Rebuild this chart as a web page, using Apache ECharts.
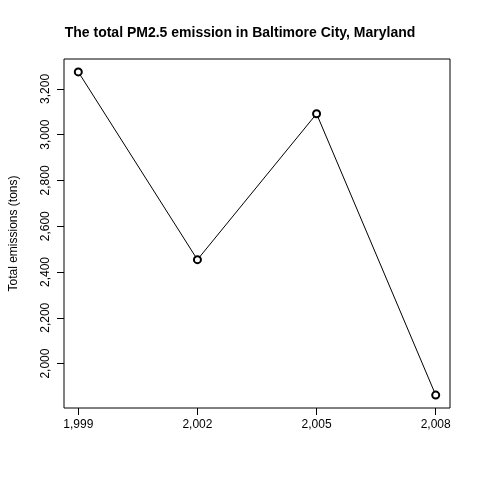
<!DOCTYPE html>
<html>
<head>
<meta charset="utf-8">
<script src="https://cdn.jsdelivr.net/npm/echarts@6/dist/echarts.min.js"></script>
<style>html,body{margin:0;padding:0;background:#fff}#c{width:480px;height:480px}</style>
</head>
<body>
<div id="c"></div>
<script>
var years = [1999, 2002, 2005, 2008];
var emissions = [3274.18, 2453.92, 3091.35, 1862.28];
var yTicks = [2000, 2200, 2400, 2600, 2800, 3000, 3200];

var chart = echarts.init(document.getElementById('c'));
var font = 'Liberation Sans, Arial, sans-serif';
chart.setOption({
    animation: false,
    title: {
        text: 'The total PM2.5 emission in Baltimore City, Maryland',
        left: 'center', top: 21,
        textStyle: {fontFamily: font, fontSize: 14, fontWeight: 'bold', color: '#000'}
    },
    grid: {left: 59, right: 30, top: 59, bottom: 72, show: true, borderColor: '#000', borderWidth: 1},
    xAxis: {
        type: 'value', min: 1998.64, max: 2008.36,
        splitLine: {show: false},
        axisLine: {show: false},
        axisTick: {show: true, length: 7, customValues: years, lineStyle: {color: '#000'}},
        axisLabel: {customValues: years, margin: 11, color: '#000', fontFamily: font, fontSize: 12}
    },
    yAxis: {
        type: 'value', min: 1805.8, max: 3330.7,
        name: 'Total emissions (tons)', nameLocation: 'middle', nameGap: 44,
        nameTextStyle: {fontFamily: font, fontSize: 12, color: '#000'},
        splitLine: {show: false},
        axisLine: {show: false},
        axisTick: {show: true, length: 7, customValues: yTicks, lineStyle: {color: '#000'}},
        axisLabel: {customValues: yTicks, rotate: 90, margin: 12, color: '#000', fontFamily: font, fontSize: 12}
    },
    series: [{
        type: 'line',
        data: years.map(function (y, i) { return [y, emissions[i]]; }),
        symbol: 'emptyCircle', symbolSize: 7,
        lineStyle: {color: '#000', width: 1},
        itemStyle: {color: '#000', borderColor: '#000', borderWidth: 1}
    }]
});
</script>
</body>
</html>
